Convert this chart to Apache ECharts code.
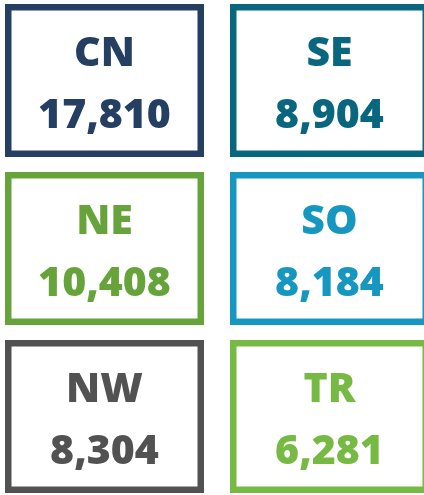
<!DOCTYPE html>
<html>
<head>
<meta charset="utf-8">
<script src="https://cdn.jsdelivr.net/npm/echarts@6/dist/echarts.min.js"></script>
<style>
html,body{margin:0;padding:0;background:#fff;}
#main{width:424px;height:495px;}
</style>
</head>
<body>
<div id="main"></div>
<script>
// Data
var regions = ['CN', 'SE', 'NE', 'SO', 'NW', 'TR'];
var values = [17810, 8904, 10408, 8184, 8304, 6281];
var colors = ['#243F62', '#09667F', '#67A33B', '#1697BF', '#525252', '#76B943'];

var chart = echarts.init(document.getElementById('main'), null, {renderer: 'canvas'});

var seriesData = regions.map(function (r, i) {
  return [i % 2, Math.floor(i / 2), values[i], i];
});

var BOX_W = 199 / 225;
var BOX_H = 153 / 168;
var LW = 6.5;
var FONT = '800 41px "Open Sans"';

chart.setOption({
  animation: false,
  backgroundColor: '#ffffff',
  grid: {left: 0, right: 0, top: 0, bottom: 0},
  xAxis: {type: 'value', min: -104.5 / 225, max: (424 - 104.5) / 225, show: false},
  yAxis: {type: 'value', inverse: true, min: -80.5 / 168, max: (495 - 80.5) / 168, show: false},
  series: [{
    type: 'custom',
    data: seriesData,
    encode: {x: 0, y: 1},
    renderItem: function (params, api) {
      var idx = api.value(3);
      var c = api.coord([api.value(0), api.value(1)]);
      var s = api.size([BOX_W, BOX_H]);
      var col = colors[idx];
      return {
        type: 'group',
        children: [
          {
            type: 'rect',
            shape: {x: c[0] - s[0] / 2 + LW / 2, y: c[1] - s[1] / 2 + LW / 2, width: s[0] - LW, height: s[1] - LW},
            style: {fill: '#ffffff', stroke: col, lineWidth: LW}
          },
          {
            type: 'text',
            x: c[0], y: c[1] - 26,
            style: {text: regions[idx], font: FONT, fill: col, align: 'center', verticalAlign: 'middle'}
          },
          {
            type: 'text',
            x: c[0], y: c[1] + 36,
            style: {text: api.value(2).toLocaleString('en-US'), font: FONT, fill: col, align: 'center', verticalAlign: 'middle'}
          }
        ]
      };
    }
  }]
});
</script>
</body>
</html>
